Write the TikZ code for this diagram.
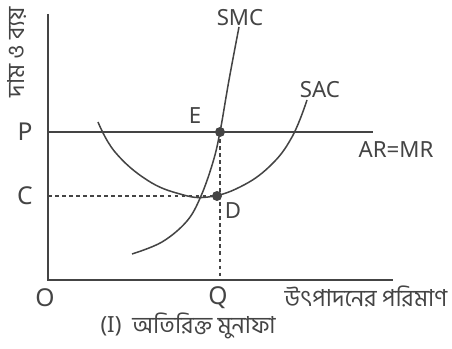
\documentclass[tikz,border=0pt]{standalone}
\usepackage{fontspec}
\setmainfont{Noto Sans}
\newfontfamily\bnfont[Script=Bengali]{Hind Siliguri}
\usetikzlibrary{positioning}

\definecolor{ink}{HTML}{444444}

\begin{document}
\begin{tikzpicture}[x=0.03cm, y=-0.03cm, ink,
    axis/.style={line width=1.6pt},
    curve/.style={line width=1.3pt},
    guide/.style={line width=1pt, dashed},
    lab/.style={font=\fontsize{19}{21}\selectfont, inner sep=1pt},
    big/.style={font=\fontsize{21}{23}\selectfont, inner sep=1pt},
    bn/.style={font=\fontsize{20}{23}\bnfont, inner sep=1pt}]
  \useasboundingbox (0,0) rectangle (452,349);
  % axes
  \coordinate (O) at (48,280);
  \coordinate (ytop) at (48,14);
  \coordinate (xend) at (393,280);
  \draw[axis] (ytop) -- (O) -- (xend);
  % price line and points
  \coordinate (E) at (220,132);
  \coordinate (D) at (217,196);
  \coordinate (arend) at (373,132);
  \draw[axis] (O |- E) -- (arend);
  \draw[guide] (O |- D) -- (D);
  \draw[guide] (E) -- (E |- O);
  % SAC
  \draw[curve] plot[smooth, tension=0.7] coordinates {(98,122) (115,152) (147,180) (180,194) (208,197) (240,187) (270,166) (292,137) (307,100)};
  % SMC
  \draw[curve] plot[smooth, tension=0.6] coordinates {(132,254) (162,242) (187,221) (201,196) (213,162) (220,132) (229,80) (239,27)};
  \fill (E) circle (5);
  \fill (D) circle (5);
  % labels
  \node[big] (p) at (25,132) {P};
  \node[big] (c) at (25,196) {C};
  \node[big] (o) at (45,298) {O};
  \node[big] (q) at (218,298) {Q};
  \node[lab] (e) at (195,116) {E};
  \node[lab] (d) at (233,211) {D};
  \node[lab] (smc) at (240,18) {SMC};
  \node[lab] (sac) at (320,90) {SAC};
  \node[lab] (armr) at (396,150) {AR=MR};
  \node[bn] (qty) at (366,296) {উৎপাদনের পরিমাণ};
  \node[bn, rotate=90] (price) at (17,52) {দাম ও ব্যয়};
  \node[lab] (roman) at (111,326) {(I)};
  \node[bn, right=7pt of roman] (profit) {অতিরিক্ত মুনাফা};
\end{tikzpicture}
\end{document}
